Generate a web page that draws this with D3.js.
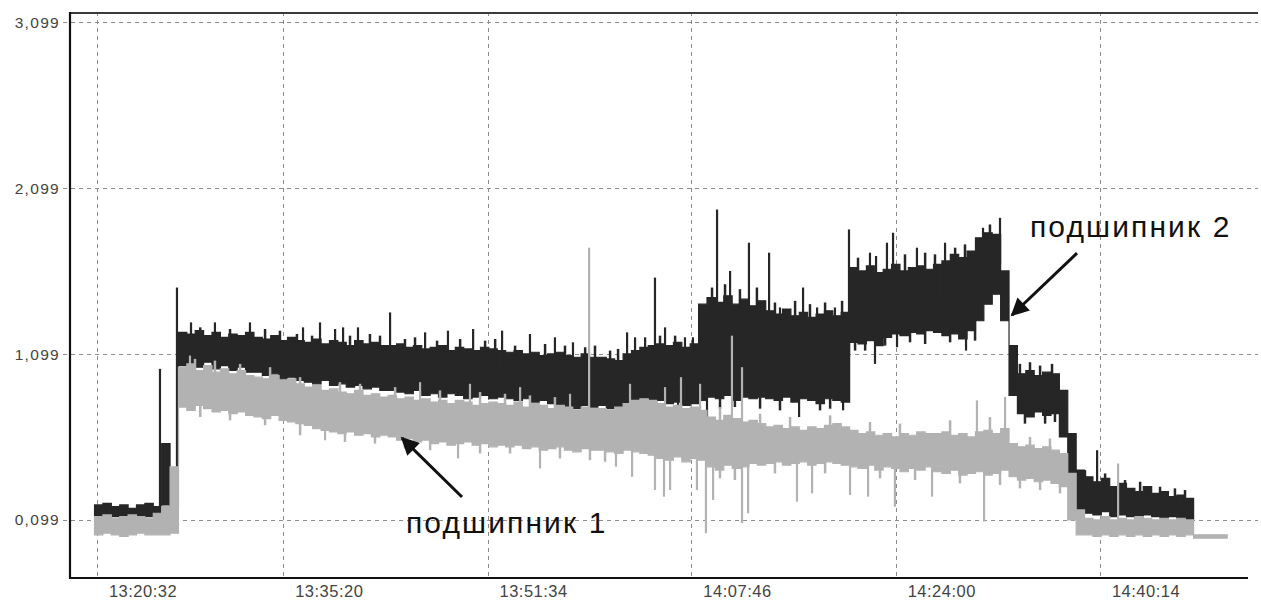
<!DOCTYPE html>
<html><head><meta charset="utf-8">
<script src="https://cdn.jsdelivr.net/npm/d3@7/dist/d3.min.js"></script>
<style>body{margin:0;background:#fff}svg{display:block}</style>
</head><body><svg id="c" width="1261" height="600"></svg>
<script>
// ---- data ----
const startTime = "13:20:20";   // first sample
const stepSeconds = 40;          // sampling step of the envelopes below
const tickLabels = ["13:20:32","13:35:20","13:51:34","14:07:46","14:24:00","14:40:14"];
const yTickValues = [0.099, 1.099, 2.099, 3.099];
const yTickLabels = ["0,099","1,099","2,099","3,099"];

// подшипник 2 (dark) – upper / lower envelope of each sample
const bearing2Hi = [0.19,0.20,0.18,0.19,0.17,0.19,0.20,0.18,0.56,0.34,
 1.23,1.22,1.24,1.21,1.23,1.20,1.22,1.21,1.23,1.20,1.19,1.21,1.18,1.20,
 1.18,1.17,1.19,1.16,1.18,1.17,1.15,1.18,1.16,1.17,1.15,
 1.15,1.16,1.14,1.15,1.13,1.14,1.15,1.12,1.14,1.13,1.12,1.14,1.13,
 1.12,1.11,1.12,1.10,1.11,1.09,1.10,1.11,1.09,1.08,1.10,1.08,
 1.08,1.07,1.06,1.10,1.12,1.14,1.15,1.16,1.15,1.17,1.14,1.16,
 1.40,1.44,1.41,1.45,1.40,1.43,1.39,1.42,
 1.36,1.34,1.37,1.33,1.35,1.32,1.34,1.36,1.33,1.35,
 1.62,1.60,1.63,1.59,1.61,1.64,1.60,1.62,1.63,1.61,
 1.64,1.66,1.70,1.68,1.72,1.80,1.83,1.82,1.60,1.15,
 0.98,1.00,0.97,0.99,0.98,0.88,0.62,0.40,
 0.36,0.33,0.35,0.30,0.32,0.29,0.27,0.30,0.26,0.27,0.24,0.25,0.23];
const bearing2Lo = [0.12,0.11,0.12,0.11,0.12,0.11,0.12,0.12,0.19,0.17,
 1.03,1.04,1.02,1.05,1.01,1.03,1.00,1.02,0.99,0.99,0.97,0.98,0.95,0.96,
 0.94,0.93,0.92,0.94,0.91,0.92,0.90,0.91,0.89,0.90,0.88,
 0.88,0.87,0.86,0.88,0.85,0.86,0.84,0.86,0.85,0.83,0.84,0.85,0.83,
 0.84,0.83,0.82,0.83,0.81,0.82,0.80,0.79,0.78,0.77,0.79,0.78,
 0.79,0.77,0.78,0.76,0.78,0.79,0.78,0.82,0.80,0.81,0.79,0.80,
 0.82,0.84,0.83,0.85,0.82,0.84,0.83,0.84,
 0.83,0.82,0.84,0.81,0.83,0.82,0.80,0.83,0.82,0.81,
 1.17,1.16,1.18,1.15,1.20,1.22,1.21,1.23,1.22,1.24,
 1.23,1.21,1.22,1.19,1.24,1.30,1.40,1.46,1.30,0.85,
 0.74,0.72,0.75,0.73,0.74,0.60,0.35,0.15,
 0.14,0.13,0.15,0.12,0.13,0.12,0.11,0.13,0.12,0.11,0.12,0.11,0.10];
// подшипник 1 (light grey)
const bearing1Hi = [0.12,0.13,0.11,0.12,0.13,0.12,0.11,0.14,0.18,0.42,
 1.02,1.04,1.00,1.03,0.99,1.01,0.98,1.00,0.97,0.96,0.95,0.97,0.94,0.95,
 0.92,0.90,0.91,0.88,0.89,0.87,0.86,0.88,0.85,0.86,0.84,
 0.85,0.83,0.84,0.82,0.83,0.81,0.82,0.80,0.82,0.81,0.79,0.80,0.81,
 0.80,0.79,0.81,0.78,0.80,0.79,0.77,0.79,0.78,0.76,0.78,0.77,
 0.77,0.76,0.78,0.80,0.82,0.83,0.82,0.80,0.78,0.79,0.77,0.78,0.76,
 0.72,0.70,0.73,0.71,0.69,0.70,0.68,
 0.66,0.67,0.65,0.66,0.64,0.66,0.65,0.67,0.68,0.66,
 0.64,0.62,0.63,0.61,0.62,0.60,0.62,0.61,0.63,0.62,
 0.62,0.63,0.61,0.62,0.60,0.63,0.64,0.62,0.65,
 0.56,0.54,0.55,0.53,0.54,0.52,0.50,0.38,0.16,
 0.11,0.10,0.12,0.10,0.11,0.10,0.12,0.11,0.10,0.11,0.10,0.11,0.10,
 0.01,0.01,0.01,0.01];
const bearing1Lo = [0.01,0.02,0.01,0.00,0.01,0.02,0.01,0.01,0.01,0.02,
 0.78,0.76,0.79,0.77,0.75,0.76,0.74,0.75,0.73,0.72,0.71,0.73,0.70,0.69,
 0.68,0.67,0.65,0.64,0.63,0.62,0.63,0.61,0.62,0.60,0.61,
 0.60,0.58,0.59,0.57,0.58,0.56,0.57,0.55,0.56,0.57,0.55,0.56,0.54,
 0.55,0.54,0.55,0.53,0.54,0.52,0.53,0.54,0.52,0.51,0.53,0.52,
 0.52,0.51,0.50,0.52,0.51,0.50,0.49,0.47,0.46,0.48,0.45,0.47,0.46,
 0.42,0.40,0.43,0.41,0.42,0.44,0.43,
 0.44,0.45,0.43,0.44,0.45,0.43,0.44,0.45,0.44,0.43,
 0.42,0.41,0.43,0.40,0.42,0.41,0.39,0.41,0.40,0.42,
 0.39,0.38,0.40,0.37,0.38,0.39,0.37,0.38,0.40,
 0.36,0.34,0.35,0.33,0.34,0.32,0.30,0.10,0.01,
 0.01,0.00,0.01,0.00,0.01,0.00,0.01,0.00,0.01,0.00,0.01,0.00,0.01,
 -0.01,-0.01,-0.01,-0.01];

// isolated spikes: [seconds after startTime, value]
const bearing2Spikes = [[312,1.01],[393,1.50],[460,1.29],[574,1.29],[741,1.29],[994,1.26],
 [1075,1.29],[1147,1.25],[1185,1.26],[1256,1.26],[1409,1.35],[1576,1.23],[1685,1.24],
 [1805,1.25],[1943,1.24],[2076,1.22],[2195,1.20],[2281,1.17],[2539,1.23],[2577,1.20],
 [2625,1.20],[2672,1.56],[2720,1.26],[2815,1.20],[2853,1.20],[2968,1.97],[3030,1.60],
 [3120,1.77],[3216,1.71],[3268,1.38],[3378,1.50],[3445,1.38],[3530,1.38],[3597,1.85],
 [3697,1.71],[3726,1.69],[3778,1.77],[3807,1.83],[3921,1.74],[4055,1.77],[4236,1.86],
 [4317,1.92],[4780,0.52],
 [2782,0.74],[2920,0.66],[3359,0.72],[3569,0.76],[3721,1.04],[3826,1.14],[4155,1.12]];
// short teeth along the band edges
const bearing2Teeth = [[504,1.26],[646,1.25],[813,1.25],[884,1.24],[965,1.22],[1037,1.21],
 [1218,1.21],[1313,1.22],[1361,1.21],[1480,1.19],[1528,1.20],[1633,1.18],[1743,1.19],
 [1862,1.18],[1910,1.19],[2005,1.15],[2148,1.16],[2243,1.15],[2339,1.14],[2386,1.15],
 [2458,1.12],[2496,1.13],[2696,1.21],[2768,1.21],[2944,1.50],[3006,1.52],[3077,1.49],
 [3158,1.50],[3244,1.41],[3340,1.42],[3411,1.40],[3483,1.41],[3564,1.42],[3640,1.68],
 [3864,1.70],[3960,1.71],[4007,1.70],[4103,1.74],[4150,1.76],[4269,1.88],[4412,1.04],
 [4460,1.05],[4508,1.03],[4565,1.04],[4722,0.40],[4818,0.38],[4913,0.34],[4985,0.33],
 [5080,0.30],[5151,0.29],[5199,0.28],
 [3626,1.12],[3674,1.12],[3769,1.15],[3888,1.17],[3960,1.16],[4079,1.17],[4198,1.18],
 [2982,0.77],[3053,0.78],[3173,0.77],[3268,0.76],[3459,0.76],[3507,0.77],[4436,0.68],
 [4532,0.68],[4579,0.69]];
const bearing1Spikes = [[455,1.09],[1552,0.93],[1790,0.92],[2029,0.90],[2267,0.86],[2358,1.74],
 [2553,0.92],[2720,0.90],[2796,0.96],[2887,0.92],[3039,1.21],[3087,1.02],[4207,0.82],
 [4341,0.84],[4880,0.44],
 [1099,0.58],[1733,0.47],[2124,0.41],[2486,0.42],[2563,0.36],[2672,0.28],[2715,0.24],
 [2744,0.28],[2872,0.28],[2915,0.02],[2949,0.22],[3087,0.08],[3116,0.14],[3349,0.21],
 [3421,0.26],[3602,0.25],[3688,0.24],[3816,0.18],[3993,0.24],[4241,0.09]];
const bearing1Teeth = [[479,1.07],[574,1.06],[694,1.04],[837,1.02],[980,0.96],[1170,0.93],
 [1266,0.92],[1433,0.90],[1647,0.88],[1838,0.87],[1957,0.86],[2076,0.85],[2195,0.84],
 [2982,0.78],[3173,0.74],[3316,0.72],[3507,0.73],[3697,0.69],[3840,0.68],[4079,0.70],
 [4269,0.72],[4460,0.60],[4555,0.59],
 [504,0.72],[646,0.70],[813,0.67],[980,0.61],[1194,0.57],[1337,0.56],[1480,0.53],
 [1600,0.52],[1838,0.50],[1981,0.50],[2219,0.47],[2362,0.46],[2434,0.45],[2982,0.35],
 [3053,0.34],[3244,0.38],[3483,0.38],[3745,0.35],[3912,0.34],[4126,0.32],[4317,0.31],
 [4412,0.29],[4508,0.28],[4603,0.26]];

// annotations: [seconds after startTime, value]
const label1 = {text:"подшипник 1", at:[1485,0.021], arrowFrom:[1752,0.238], arrowTo:[1466,0.593]};
const label2 = {text:"подшипник 2", at:[4460,1.804], arrowFrom:[4684,1.707], arrowTo:[4374,1.334]};

// ---- chart ----
function parse(s){const [h,m,sec]=s.split(":").map(Number);return new Date(2000,0,1,h,m,sec);}
const t0 = parse(startTime);
const at = s => new Date(+t0 + s*1000);

const svg = d3.select("#c");
const x = d3.scaleTime().domain([parse("13:18:23"), parse("14:52:47")]).range([70,1258]);
const y = d3.scaleLinear().domain([-0.25,3.16]).range([578,12]);

const font = "'Liberation Sans', Arial, sans-serif";

// grid
const grid = svg.append("g").attr("stroke","#8c8c8c").attr("stroke-width",1).attr("stroke-dasharray","4,4");
grid.selectAll("line.h").data(yTickValues).join("line")
  .attr("x1",63).attr("x2",1258).attr("y1",d=>Math.round(y(d))+0.5).attr("y2",d=>Math.round(y(d))+0.5);
grid.selectAll("line.v").data(tickLabels).join("line")
  .attr("x1",d=>Math.round(x(parse(d)))+0.5).attr("x2",d=>Math.round(x(parse(d)))+0.5)
  .attr("y1",12).attr("y2",578);

// series
function table(hi, lo){
  const rows = hi.map((h,i)=>({t:at(i*stepSeconds), hi:h, lo:lo[i]}));
  const last = rows[rows.length-1];
  rows.push({t:at(hi.length*stepSeconds), hi:last.hi, lo:last.lo});
  return rows;
}
const area = d3.area().x(d=>x(d.t)).y0(d=>y(d.lo)).y1(d=>y(d.hi)).curve(d3.curveStepAfter);

function drawSeries(hi, lo, spikes, teeth, color){
  const rows = table(hi, lo);
  const mid = s => {const i=Math.min(Math.floor(s/stepSeconds),rows.length-2);return (rows[i].hi+rows[i].lo)/2;};
  const g = svg.append("g");
  g.append("path").datum(rows).attr("d",area).attr("fill",color).attr("stroke",color).attr("stroke-width",1.2);
  g.append("g").selectAll("line").data(teeth).join("line")
    .attr("x1",d=>x(at(d[0]))).attr("x2",d=>x(at(d[0])))
    .attr("y1",d=>y(mid(d[0]))).attr("y2",d=>y(d[1]))
    .attr("stroke",color).attr("stroke-width",2.5);
  g.append("g").selectAll("line").data(spikes).join("line")
    .attr("x1",d=>x(at(d[0]))).attr("x2",d=>x(at(d[0])))
    .attr("y1",d=>y(mid(d[0]))).attr("y2",d=>y(d[1]))
    .attr("stroke",color).attr("stroke-width",2.2);
}
drawSeries(bearing2Hi, bearing2Lo, bearing2Spikes, bearing2Teeth, "#262626");
drawSeries(bearing1Hi, bearing1Lo, bearing1Spikes, bearing1Teeth, "#b2b2b2");

// frame
svg.append("line").attr("x1",70).attr("x2",1258).attr("y1",13).attr("y2",13).attr("stroke","#3a3a3a").attr("stroke-width",1.8);
svg.append("line").attr("x1",70).attr("x2",70).attr("y1",12).attr("y2",579).attr("stroke","#111").attr("stroke-width",2.2);
svg.append("line").attr("x1",69).attr("x2",1248).attr("y1",578).attr("y2",578).attr("stroke","#111").attr("stroke-width",2.2);

// y labels
svg.append("g").selectAll("text").data(yTickValues).join("text")
  .attr("x",60).attr("y",d=>y(d)).attr("dy","0.35em").attr("text-anchor","end")
  .attr("font-family",font).attr("font-size",15.5).attr("fill","#444").attr("letter-spacing",1.3)
  .text((d,i)=>yTickLabels[i]);
// x labels (printed to the right of their grid lines, as in the original)
svg.append("g").selectAll("text").data(tickLabels).join("text")
  .attr("x",d=>x(parse(d))+46).attr("y",597).attr("text-anchor","middle")
  .attr("font-family",font).attr("font-size",16.5).attr("fill","#444").attr("letter-spacing",0.5)
  .text(d=>d);

// annotations
svg.append("defs").append("marker").attr("id","ah").attr("viewBox","0 0 10 10")
  .attr("refX",9).attr("refY",5).attr("markerWidth",7.5).attr("markerHeight",6)
  .attr("markerUnits","strokeWidth").attr("orient","auto")
  .append("path").attr("d","M0,0L10,5L0,10z").attr("fill","#111");
[label1,label2].forEach(L=>{
  svg.append("line")
    .attr("x1",x(at(L.arrowFrom[0]))).attr("y1",y(L.arrowFrom[1]))
    .attr("x2",x(at(L.arrowTo[0]))).attr("y2",y(L.arrowTo[1]))
    .attr("stroke","#111").attr("stroke-width",3).attr("marker-end","url(#ah)");
  svg.append("text").attr("x",x(at(L.at[0]))).attr("y",y(L.at[1]))
    .attr("font-family",font).attr("font-size",30).attr("letter-spacing",2.1).attr("fill","#111").text(L.text);
});
</script></body></html>
